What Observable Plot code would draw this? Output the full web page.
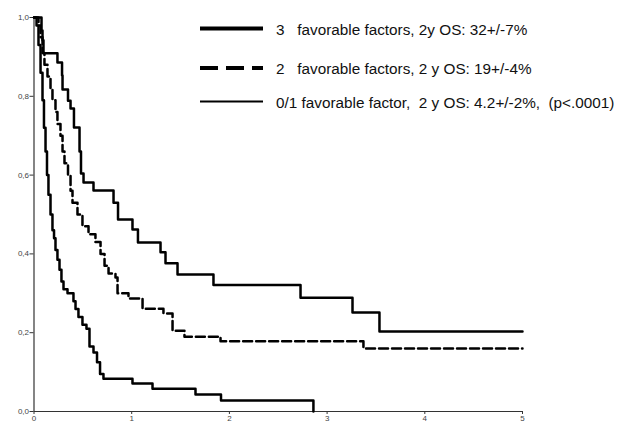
<!DOCTYPE html>
<html>
<head>
<meta charset="utf-8">
<script src="https://cdn.jsdelivr.net/npm/d3@7"></script>
<script src="https://cdn.jsdelivr.net/npm/@observablehq/plot@0.6"></script>
<style>
  html, body { margin: 0; padding: 0; background: #fff; }
  #wrap { position: relative; width: 629px; height: 423px; overflow: hidden; }
  #legend { position: absolute; left: 0; top: 0; }
</style>
</head>
<body>
<div id="wrap"></div>
<script>
// Survival curves (time in years, survival proportion)
const tA = [0, 0.077, 0.087, 0.097, 0.240, 0.287, 0.292, 0.348, 0.374, 0.409, 0.466, 0.481, 0.507, 0.609, 0.814, 0.860, 1.008, 1.064, 1.295, 1.346, 1.469, 1.837, 2.728, 3.260, 3.536, 5.0];
const sA = [1, 0.967, 0.942, 0.909, 0.886, 0.853, 0.817, 0.789, 0.769, 0.721, 0.660, 0.604, 0.581, 0.561, 0.530, 0.487, 0.462, 0.429, 0.404, 0.376, 0.348, 0.321, 0.289, 0.251, 0.203, 0.203];

const tB = [0, 0.046, 0.067, 0.087, 0.107, 0.138, 0.169, 0.189, 0.220, 0.240, 0.271, 0.292, 0.312, 0.348, 0.374, 0.394, 0.445, 0.496, 0.558, 0.629, 0.681, 0.722, 0.763, 0.834, 0.855, 0.967, 1.111, 1.325, 1.418, 1.540, 1.909, 3.372, 5.0];
const sB = [1, 0.98, 0.95, 0.91, 0.88, 0.85, 0.82, 0.79, 0.76, 0.73, 0.70, 0.66, 0.63, 0.60, 0.56, 0.53, 0.50, 0.47, 0.45, 0.43, 0.40, 0.37, 0.35, 0.34, 0.30, 0.287, 0.261, 0.249, 0.205, 0.190, 0.178, 0.160, 0.160];

const tC = [0, 0.026, 0.046, 0.067, 0.087, 0.102, 0.118, 0.133, 0.148, 0.169, 0.189, 0.205, 0.220, 0.240, 0.261, 0.281, 0.302, 0.343, 0.404, 0.425, 0.455, 0.496, 0.537, 0.568, 0.609, 0.645, 0.676, 0.711, 1.008, 1.213, 1.653, 1.914, 2.86];
const sC = [1, 0.98, 0.93, 0.86, 0.79, 0.72, 0.66, 0.60, 0.55, 0.50, 0.46, 0.44, 0.41, 0.385, 0.36, 0.33, 0.31, 0.30, 0.28, 0.26, 0.24, 0.22, 0.21, 0.165, 0.15, 0.125, 0.095, 0.083, 0.071, 0.058, 0.043, 0.028, 0.0];

const groups = ["3 favorable factors", "2 favorable factors", "0/1 favorable factor"];
const legendLabels = [
  "3   favorable factors, 2y OS: 32+/-7%",
  "2   favorable factors, 2 y OS: 19+/-4%",
  "0/1 favorable factor,  2 y OS: 4.2+/-2%,  (p<.0001)"
];
const xTicks = [0, 1, 2, 3, 4, 5];
const yTicks = [0, 0.2, 0.4, 0.6, 0.8, 1.0];

const toRows = (t, s, g) => t.map((v, i) => ({time: v, surv: s[i], group: g}));
const rowsA = toRows(tA, sA, groups[0]);
const rowsB = toRows(tB, sB, groups[1]);
const rowsC = toRows(tC, sC, groups[2]);

const comma = d => d3.format(".1f")(d).replace(".", ",");

const chart = Plot.plot({
  width: 629,
  height: 423,
  marginLeft: 33.5,
  marginRight: 107,
  marginTop: 17,
  marginBottom: 12,
  style: {background: "#fff", fontFamily: "Liberation Sans, Arial, sans-serif"},
  x: {domain: [0, 5]},
  y: {domain: [0, 1]},
  marks: [
    Plot.axisY({ticks: yTicks, tickFormat: comma, tickSize: 4, tickPadding: 1, fontSize: 8, color: "#444", stroke: "#333", label: null}),
    Plot.axisX({ticks: xTicks, tickFormat: d3.format("d"), tickSize: 3, tickPadding: 1, fontSize: 8, color: "#444", stroke: "#333", label: null}),
    Plot.ruleX([0], {stroke: "#333", strokeWidth: 1.2}),
    Plot.ruleY([0], {stroke: "#333", strokeWidth: 1.2}),
    Plot.line(rowsA, {x: "time", y: "surv", curve: "step-after", stroke: "#000", strokeWidth: 2.5}),
    Plot.line(rowsB, {x: "time", y: "surv", curve: "step-after", stroke: "#000", strokeWidth: 2.5, strokeDasharray: "9,4"}),
    Plot.line(rowsC, {x: "time", y: "surv", curve: "step-after", stroke: "#000", strokeWidth: 2.5})
  ]
});

const wrap = document.getElementById("wrap");
wrap.appendChild(chart);

// Legend overlay
const leg = d3.select(wrap).append("svg")
  .attr("id", "legend")
  .attr("width", 629).attr("height", 130);

const rowsY = [29, 68.5, 102];
const widths = [4.2, 4.2, 2];
const dashes = [null, "18,8", null];
legendLabels.forEach((lab, i) => {
  leg.append("line")
    .attr("x1", 200).attr("x2", 263)
    .attr("y1", rowsY[i] - 0.5).attr("y2", rowsY[i] - 0.5)
    .attr("stroke", "#000")
    .attr("stroke-width", widths[i])
    .attr("stroke-dasharray", dashes[i]);
  leg.append("text")
    .attr("x", 276).attr("y", rowsY[i])
    .attr("dy", "0.36em")
    .attr("font-family", "Liberation Sans, Arial, sans-serif")
    .attr("font-size", 15.3)
    .attr("fill", "#111")
    .style("white-space", "pre")
    .text(lab);
});
</script>
</body>
</html>
